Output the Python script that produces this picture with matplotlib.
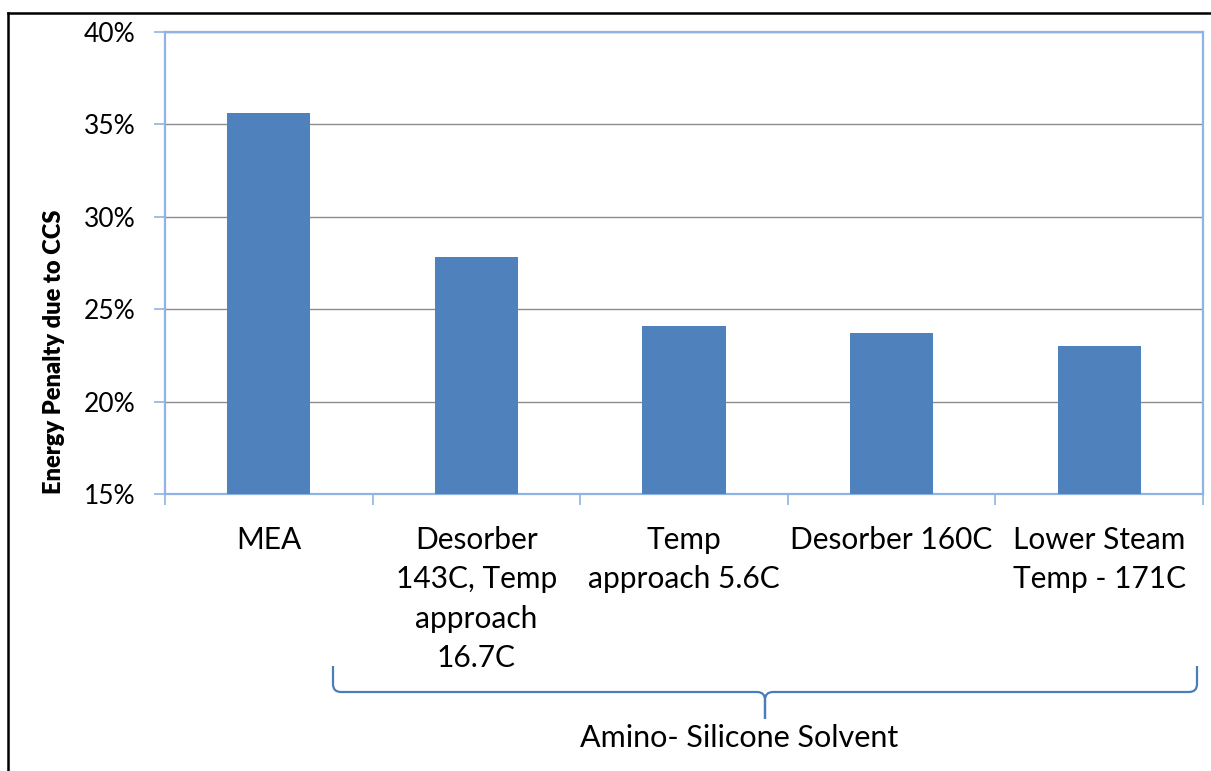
import matplotlib
matplotlib.use("Agg")
import matplotlib.pyplot as plt
from matplotlib.path import Path
from matplotlib.patches import PathPatch
from matplotlib.lines import Line2D
from matplotlib.ticker import FuncFormatter

plt.rcParams['font.family'] = ['Lato', 'DejaVu Sans']

categories = [
    "MEA",
    "Desorber\n143C, Temp\napproach\n16.7C",
    "Temp\napproach 5.6C",
    "Desorber 160C",
    "Lower Steam\nTemp - 171C",
]
penalty = [35.6, 27.8, 24.1, 23.7, 23.0]
y_ticks = [15, 20, 25, 30, 35, 40]
group_label = "Amino- Silicone Solvent"
y_label = "Energy Penalty due to CCS"

W, H = 1211, 771
fig = plt.figure(figsize=(W / 100, H / 100), dpi=100)
ax = fig.add_axes([165 / W, 1 - 494 / H, (1203 - 165) / W, (494 - 32) / H])

bar_color = "#4F81BD"
axis_color = "#8EB4E3"
x = list(range(len(categories)))
ax.bar(x, penalty, width=0.4, color=bar_color, zorder=3)

ax.set_xlim(-0.5, len(categories) - 0.5)
ax.set_ylim(15, 40)
ax.set_yticks(y_ticks)
ax.yaxis.set_major_formatter(FuncFormatter(lambda v, p: f"{v:.0f}%"))
ax.grid(axis="y", color="#8C8C8C", linewidth=1.0, zorder=0)
ax.set_axisbelow(True)

# category boundary ticks (major) and centred labels (minor)
ax.set_xticks([i + 0.5 for i in range(-1, len(categories))])
ax.set_xticklabels([])
ax.set_xticks(x, minor=True)
ax.set_xticklabels(categories, minor=True, fontsize=21.5, linespacing=1.5,
                   va="top")
ax.tick_params(axis="x", which="major", length=8, color=axis_color,
               width=1.2, direction="out")
ax.tick_params(axis="x", which="minor", length=0, pad=23)
ax.tick_params(axis="y", length=8, color=axis_color, width=1.2,
               labelsize=19, pad=13)

for s in ax.spines.values():
    s.set_color(axis_color)
    s.set_linewidth(1.6)

fig.text(54 / W, 1 - 352 / H, y_label, rotation=90, fontsize=17,
         fontweight="heavy", ha="center", va="center")

# curly brace grouping the amino-silicone cases (figure pixel coords)
def px(xp, yp):
    return (xp / W, 1 - yp / H)

xl, xr, xm = 333, 1197, 765
ytop, yline, ytip = 666, 692, 719
r = 8
verts = [
    px(xl, ytop), px(xl, yline - r), px(xl, yline), px(xl + r, yline),
    px(xm - r, yline), px(xm, yline), px(xm, yline + r), px(xm, ytip),
]
codes = [Path.MOVETO, Path.LINETO, Path.CURVE3, Path.CURVE3,
         Path.LINETO, Path.CURVE3, Path.CURVE3, Path.LINETO]
verts2 = [
    px(xr, ytop), px(xr, yline - r), px(xr, yline), px(xr - r, yline),
    px(xm + r, yline), px(xm, yline), px(xm, yline + r), px(xm, ytip),
]
for v in (verts, verts2):
    fig.add_artist(PathPatch(Path(v, codes), transform=fig.transFigure,
                             fill=False, edgecolor="#4A7EBB", linewidth=1.6))

fig.text(739 / W, 1 - 738 / H, group_label, fontsize=22, ha="center",
         va="center")

# outer frame lines along the top and left of the figure
fig.add_artist(Line2D([8 / W, 1], [1 - 13 / H, 1 - 13 / H],
                      transform=fig.transFigure, color="black", linewidth=1.8))
fig.add_artist(Line2D([8 / W, 8 / W], [0, 1 - 13 / H],
                      transform=fig.transFigure, color="black", linewidth=1.8))

fig.savefig("out.png", dpi=100, facecolor="white")
